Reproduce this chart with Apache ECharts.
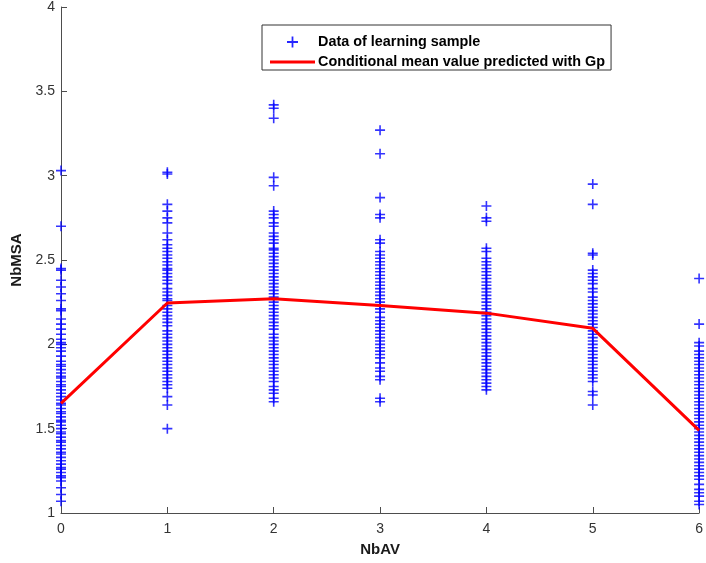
<!DOCTYPE html>
<html>
<head>
<meta charset="utf-8">
<script src="https://cdn.jsdelivr.net/npm/echarts@6/dist/echarts.min.js"></script>
<style>
html,body{margin:0;padding:0;background:#fff;}
#chart{width:706px;height:563px;}
</style>
</head>
<body>
<div id="chart"></div>
<script>
// Categories (NbAV values)
var nbAV = [0, 1, 2, 3, 4, 5, 6];

// Learning sample data per NbAV column (NbMSA values)
var col0 = [3.03, 2.70, 2.45, 2.44, 2.38, 2.34, 2.30, 2.26, 2.21, 2.20, 2.15, 2.12, 2.09, 2.06, 2.03, 2.01, 2.00, 1.98, 1.96, 1.93, 1.90, 1.88, 1.87, 1.85, 1.83, 1.81, 1.80, 1.78, 1.76, 1.75, 1.73, 1.71, 1.69, 1.67, 1.65, 1.64, 1.62, 1.60, 1.59, 1.57, 1.55, 1.54, 1.52, 1.50, 1.48, 1.47, 1.45, 1.43, 1.42, 1.40, 1.38, 1.36, 1.35, 1.33, 1.31, 1.29, 1.27, 1.26, 1.24, 1.22, 1.21, 1.19, 1.15, 1.11, 1.07];
var col1 = [3.02, 3.01, 2.83, 2.79, 2.75, 2.72, 2.66, 2.62, 2.59, 2.57, 2.55, 2.53, 2.51, 2.49, 2.47, 2.45, 2.44, 2.42, 2.40, 2.38, 2.36, 2.33, 2.31, 2.29, 2.27, 2.26, 2.23, 2.21, 2.19, 2.17, 2.15, 2.13, 2.11, 2.08, 2.06, 2.04, 2.02, 2.00, 1.98, 1.96, 1.94, 1.92, 1.90, 1.88, 1.86, 1.84, 1.82, 1.80, 1.78, 1.76, 1.74, 1.69, 1.64, 1.50];
var col2 = [3.42, 3.40, 3.34, 2.99, 2.94, 2.79, 2.77, 2.75, 2.72, 2.70, 2.66, 2.64, 2.62, 2.60, 2.57, 2.56, 2.54, 2.52, 2.50, 2.48, 2.46, 2.44, 2.42, 2.40, 2.38, 2.36, 2.34, 2.32, 2.30, 2.28, 2.25, 2.23, 2.21, 2.19, 2.17, 2.15, 2.13, 2.11, 2.09, 2.06, 2.04, 2.02, 2.00, 1.98, 1.96, 1.94, 1.92, 1.90, 1.88, 1.86, 1.84, 1.82, 1.80, 1.78, 1.75, 1.73, 1.71, 1.68, 1.66];
var col3 = [3.27, 3.13, 2.87, 2.77, 2.75, 2.62, 2.60, 2.55, 2.53, 2.51, 2.49, 2.47, 2.45, 2.43, 2.41, 2.39, 2.37, 2.35, 2.33, 2.31, 2.29, 2.27, 2.25, 2.23, 2.21, 2.19, 2.16, 2.14, 2.12, 2.10, 2.08, 2.06, 2.04, 2.02, 2.00, 1.98, 1.96, 1.94, 1.92, 1.89, 1.86, 1.84, 1.81, 1.79, 1.68, 1.66];
var col4 = [2.82, 2.75, 2.73, 2.57, 2.55, 2.51, 2.49, 2.47, 2.45, 2.43, 2.41, 2.39, 2.37, 2.35, 2.33, 2.31, 2.29, 2.27, 2.25, 2.23, 2.21, 2.19, 2.17, 2.15, 2.13, 2.11, 2.09, 2.07, 2.05, 2.03, 2.01, 1.99, 1.97, 1.95, 1.93, 1.91, 1.89, 1.87, 1.85, 1.83, 1.81, 1.79, 1.77, 1.75, 1.73];
var col5 = [2.95, 2.83, 2.54, 2.53, 2.44, 2.42, 2.40, 2.38, 2.36, 2.33, 2.31, 2.28, 2.26, 2.24, 2.22, 2.20, 2.18, 2.16, 2.14, 2.12, 2.10, 2.08, 2.06, 2.04, 2.02, 2.00, 1.98, 1.96, 1.94, 1.92, 1.90, 1.88, 1.86, 1.84, 1.82, 1.80, 1.78, 1.72, 1.70, 1.64];
var col6 = [2.39, 2.12, 2.01, 1.99, 1.96, 1.94, 1.92, 1.90, 1.88, 1.86, 1.84, 1.82, 1.80, 1.78, 1.76, 1.74, 1.72, 1.70, 1.68, 1.66, 1.64, 1.62, 1.60, 1.58, 1.56, 1.54, 1.52, 1.50, 1.48, 1.46, 1.44, 1.42, 1.40, 1.38, 1.36, 1.34, 1.32, 1.30, 1.28, 1.26, 1.24, 1.22, 1.20, 1.17, 1.14, 1.12, 1.10, 1.07, 1.05];

// Conditional mean predicted with Gp
var gpMean = [1.65, 2.245, 2.27, 2.23, 2.185, 2.095, 1.49];

// Tick labels
var xTicks = ['0', '1', '2', '3', '4', '5', '6'];
var yTicks = ['1', '1.5', '2', '2.5', '3', '3.5', '4'];

var cols = [col0, col1, col2, col3, col4, col5, col6];
var scatterData = [];
cols.forEach(function (c, i) {
  c.forEach(function (v) { scatterData.push([nbAV[i], v]); });
});
var lineData = nbAV.map(function (x, i) { return [x, gpMean[i]]; });

var plus = 'path://M8.4,0h3.2v8.4h8.4v3.2h-8.4v8.4h-3.2v-8.4h-8.4v-3.2h8.4z';
var lineIcon = 'path://M0,0h45v3h-45z';
var FONT = '"Liberation Sans", Arial, Helvetica, sans-serif';

var chart = echarts.init(document.getElementById('chart'), null, {renderer: 'canvas'});
chart.setOption({
  animation: false,
  backgroundColor: '#ffffff',
  grid: {left: 61, right: 4, top: 6, bottom: 50, containLabel: false},
  legend: {
    orient: 'vertical',
    left: 262,
    top: 25,
    padding: [9, 6, 0, 8],
    itemGap: 4,
    itemWidth: 45,
    itemHeight: 11,
    backgroundColor: '#ffffff',
    borderColor: '#333333',
    borderWidth: 1,
    borderRadius: 0,
    textStyle: {fontFamily: FONT, fontSize: 14.4, fontWeight: 'bold', color: '#000', lineHeight: 16, padding: [0, 0, 0, -2]},
    data: [
      {name: 'Data of learning sample', icon: plus, itemStyle: {color: '#0000ff', opacity: 0.85}},
      {name: 'Conditional mean value predicted with Gp', icon: lineIcon, itemStyle: {color: '#ff0000'}}
    ]
  },
  xAxis: {
    type: 'value', min: 0, max: 6, interval: 1,
    name: 'NbAV', nameLocation: 'middle', nameGap: 29,
    nameTextStyle: {fontFamily: FONT, fontSize: 15, fontWeight: 'bold', color: '#1a1a1a'},
    axisLine: {show: true, onZero: false, lineStyle: {color: '#4d4d4d', width: 1}},
    axisTick: {show: true, inside: true, length: 6, lineStyle: {color: '#4d4d4d'}},
    axisLabel: {fontFamily: FONT, fontSize: 14, color: '#333', margin: 9,
      formatter: function (v) { return xTicks[nbAV.indexOf(v)]; }},
    splitLine: {show: false}
  },
  yAxis: {
    type: 'value', min: 1, max: 4, interval: 0.5,
    name: 'NbMSA', nameLocation: 'middle', nameGap: 33, nameRotate: 90,
    nameTextStyle: {fontFamily: FONT, fontSize: 15, fontWeight: 'bold', color: '#1a1a1a'},
    axisLine: {show: true, onZero: false, lineStyle: {color: '#4d4d4d', width: 1}},
    axisTick: {show: true, inside: true, length: 6, lineStyle: {color: '#4d4d4d'}},
    axisLabel: {fontFamily: FONT, fontSize: 14, color: '#333', margin: 6,
      formatter: function (v) { var i = Math.round((v - 1) / 0.5); return yTicks[i]; }},
    splitLine: {show: false}
  },
  series: [
    {
      name: 'Data of learning sample',
      type: 'scatter',
      symbol: plus,
      symbolSize: 10,
      itemStyle: {color: '#0000ff', opacity: 0.8},
      data: scatterData,
      z: 2
    },
    {
      name: 'Conditional mean value predicted with Gp',
      type: 'line',
      symbol: 'none',
      showSymbol: false,
      lineStyle: {color: '#ff0000', width: 3},
      itemStyle: {color: '#ff0000'},
      data: lineData,
      z: 3
    }
  ]
});
</script>
</body>
</html>
